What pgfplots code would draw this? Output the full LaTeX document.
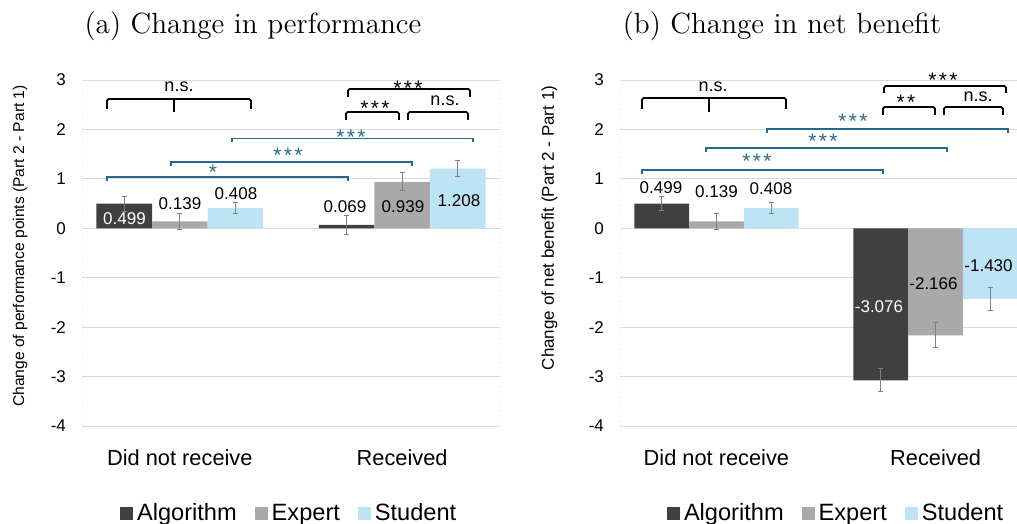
\documentclass[border=0pt]{standalone}
\usepackage{pgfplots}
\pgfplotsset{compat=1.18}
\usepackage{fontspec}
\newfontfamily\arial{Liberation Sans}
\definecolor{algc}{HTML}{404040}
\definecolor{expc}{HTML}{A9A9A9}
\definecolor{stuc}{HTML}{BDE3F4}
\definecolor{sigblue}{HTML}{26698C}
\definecolor{errc}{HTML}{7F7F7F}
\definecolor{gridc}{HTML}{D9D9D9}
\newcommand{\aster}[1]{\fontsize{10.5}{11}\selectfont #1}
\pgfplotsset{
  panel/.style={
    scale only axis,
    height=173pt,
    ymin=-4, ymax=3,
    xmin=-0.44, xmax=1.44,
    ybar, bar width=0.25,
    ytick={-4,-3,-2,-1,0,1,2,3},
    yticklabels={-4,-3,-2,-1,0,1,2,3},
    xtick={0,1},
    xticklabels={Did not receive, Received},
    major tick length=0pt,
    ymajorgrids,
    grid style={gridc, line width=0.5pt},
    axis line style={draw=gridc!70, dotted, line width=0.4pt},
    tick label style={font=\arial\fontsize{8.5}{10}\selectfont},
    yticklabel style={anchor=east, xshift=-4.5pt},
    xticklabel style={font=\arial\fontsize{10.9}{12}\selectfont, anchor=base, yshift=-19.5pt},
    error bars/y dir=both, error bars/y explicit,
    error bars/error bar style={errc, line width=0.5pt},
    error bars/error mark options={errc, rotate=90, mark size=1.3pt, line width=0.5pt},
    legend columns=3,
    legend style={draw=none, fill=none, font=\arial\fontsize{11.8}{13}\selectfont, anchor=center,
      /tikz/every even column/.append style={column sep=7pt}},
    legend image code/.code={\fill[##1] (0pt,-3.25pt) rectangle (6.5pt,3.25pt);},
  },
}
\begin{document}
\begin{tikzpicture}
\path[use as bounding box] (0pt,0pt) rectangle (508.5pt,-262pt);
\clip (0pt,0pt) rectangle (508.5pt,-262pt);
% ---------- panel (a)
\begin{axis}[panel, at={(41pt,-213pt)}, anchor=south west, width=209pt,
  legend style={at={(0.498,-0.254)}}]
\addplot[fill=algc, draw=none, bar shift=-0.25] coordinates {(0,0.499) +- (0,0.15) (1,0.069) +- (0,0.19)};
\addplot[fill=expc, draw=none, bar shift=0] coordinates {(0,0.139) +- (0,0.165) (1,0.939) +- (0,0.18)};
\addplot[fill=stuc, draw=none, bar shift=0.25] coordinates {(0,0.408) +- (0,0.105) (1,1.208) +- (0,0.155)};
\legend{Algorithm, Expert, Student}
\end{axis}
% ---------- panel (b)
\begin{axis}[panel, at={(310pt,-213pt)}, anchor=south west, width=206pt,
  legend style={at={(0.527,-0.254)}}]
\addplot[fill=algc, draw=none, bar shift=-0.25] coordinates {(0,0.499) +- (0,0.145) (1,-3.076) +- (0,0.23)};
\addplot[fill=expc, draw=none, bar shift=0] coordinates {(0,0.139) +- (0,0.17) (1,-2.166) +- (0,0.25)};
\addplot[fill=stuc, draw=none, bar shift=0.25] coordinates {(0,0.408) +- (0,0.11) (1,-1.430) +- (0,0.23)};
\legend{Algorithm, Expert, Student}
\end{axis}
% ---------- annotations (pixel grid)
\begin{scope}[x=0.5pt, y=-0.5pt]
\node[anchor=base, font=\fontsize{14.6}{17}\selectfont, inner sep=0] at (253,34) {(a) Change in performance};
\node[anchor=base, font=\fontsize{14.6}{17}\selectfont, inner sep=0] at (782,34) {(b) Change in net benefit};
\node[rotate=90, font=\arial\fontsize{7.8}{9}\selectfont, inner sep=0] at (20,246) {Change of performance points (Part 2 - Part 1)};
\node[rotate=90, font=\arial\fontsize{8.5}{10}\selectfont, inner sep=0] at (549.5,228) {Change of net benefit (Part 2 - Part 1)};
% data labels
\begin{scope}[every node/.style={anchor=base, inner sep=0, font=\arial\fontsize{8.5}{10}\selectfont}]
\node[white] at (124.5,224) {0.499};
\node at (180,209) {0.139};
\node at (236,199) {0.408};
\node at (345,212) {0.069};
\node at (403,212) {0.939};
\node at (459,206) {1.208};
\node at (661,193) {0.499};
\node at (716.5,198) {0.139};
\node at (771,194) {0.408};
\node[white] at (879,312) {-3.076};
\node at (933.5,289) {-2.166};
\node at (988.5,271) {-1.430};
\end{scope}
% black brackets
\begin{scope}[line width=0.9pt, rounded corners=0.8pt, black]
\draw (107,109) -- (107,99) -- (251,99) -- (251,109);
\draw (174,99) -- (174,112);
\draw (348,97) -- (348,89) -- (470,89) -- (470,97);
\draw (346,120) -- (346,112) -- (399,112) -- (399,120);
\draw (408,120) -- (408,112) -- (468,112) -- (468,120);
\draw (642,109) -- (642,98) -- (786,98) -- (786,109);
\draw (709,98) -- (709,112);
\draw (884,93) -- (884,86) -- (1006,86) -- (1006,93);
\draw (883,115) -- (883,107) -- (935,107) -- (935,115);
\draw (944,115) -- (944,107) -- (1003,107) -- (1003,115);
\end{scope}
\begin{scope}[line width=0.75pt, sigblue]
\draw (232,142) -- (232,138.5) -- (473,138.5) -- (473,142);
\draw (171,166) -- (171,162) -- (412,162) -- (412,166);
\draw (107,181) -- (107,177) -- (348,177) -- (348,181);
\draw (767,133) -- (767,129) -- (1008,129) -- (1008,133);
\draw (706,152) -- (706,148) -- (947,148) -- (947,152);
\draw (642,174) -- (642,170) -- (883,170) -- (883,174);
\end{scope}
\begin{scope}[every node/.style={anchor=base, inner sep=0, font=\arial\fontsize{9}{10}\selectfont}]
\node at (179,92) {n.s.};
\node at (445,105) {n.s.};
\node at (713,92) {n.s.};
\node at (978,102) {n.s.};
\node at (408,95.5) {\aster{*\kern1.2pt*\kern1.2pt*}};
\node at (375,115.5) {\aster{*\kern1.2pt*\kern1.2pt*}};
\node at (943,87.5) {\aster{*\kern1.2pt*\kern1.2pt*}};
\node at (906,110) {\aster{*\kern1.2pt*}};
\node[sigblue] at (351,144.5) {\aster{*\kern1.2pt*\kern1.2pt*}};
\node[sigblue] at (288,162.5) {\aster{*\kern1.2pt*\kern1.2pt*}};
\node[sigblue] at (213,179.5) {\aster{*}};
\node[sigblue] at (853,128.5) {\aster{*\kern1.2pt*\kern1.2pt*}};
\node[sigblue] at (823,148.5) {\aster{*\kern1.2pt*\kern1.2pt*}};
\node[sigblue] at (757,168.5) {\aster{*\kern1.2pt*\kern1.2pt*}};
\end{scope}
\end{scope}
\end{tikzpicture}
\end{document}
